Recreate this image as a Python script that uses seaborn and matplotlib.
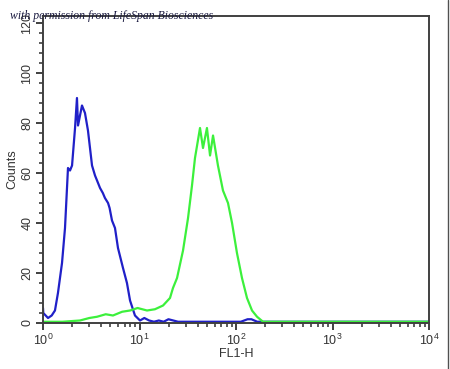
import numpy as np
import pandas as pd
import matplotlib
matplotlib.use("Agg")
import matplotlib.pyplot as plt
from matplotlib.ticker import LogLocator, LogFormatterMathtext, MultipleLocator, NullFormatter
from matplotlib.lines import Line2D
import seaborn as sns

# Blue histogram (control): log10(FL1-H) positions and counts
blue_log = [0.0, 0.003, 0.052, 0.09, 0.124, 0.155, 0.197, 0.228, 0.259, 0.28, 0.301, 0.332,
            0.352, 0.363, 0.404, 0.435, 0.466, 0.508, 0.539, 0.56, 0.591, 0.62, 0.642, 0.674,
            0.69, 0.715, 0.746, 0.777, 0.829, 0.870, 0.902, 0.953, 1.005, 1.05, 1.1, 1.15,
            1.2, 1.25, 1.3, 1.4, 1.5, 1.7, 1.9, 2.05, 2.12, 2.16, 2.22, 2.3, 2.6, 3.0, 3.5, 4.0]
blue_cnt = [6, 4, 2, 3, 5, 12, 24, 38, 62, 61, 63, 78,
            90, 79, 87, 84, 77, 63, 59, 57, 54, 52, 50, 48,
            46, 41, 38, 30, 22, 16, 9, 3, 1, 2, 1, 0.5,
            1, 0.5, 1.5, 0.5, 0.5, 0.5, 0.5, 0.5, 1.5, 1.5, 0.5, 0.5, 0.5, 0.5, 0.5, 0.5]

# Green histogram (antibody): log10(FL1-H) positions and counts
green_log = [0.0, 0.2, 0.383, 0.48, 0.56, 0.65, 0.725, 0.82, 0.902, 0.98, 1.078, 1.16,
             1.244, 1.316, 1.347, 1.389, 1.451, 1.503, 1.544, 1.575, 1.627, 1.658, 1.699,
             1.731, 1.762, 1.813, 1.865, 1.917, 1.959, 2.010, 2.062, 2.114, 2.166, 2.218,
             2.28, 2.4, 2.6, 3.0, 3.5, 4.0]
green_cnt = [0.5, 0.5, 1, 2, 2.5, 3.5, 3, 4.5, 5, 6, 5, 5.5,
             7, 10, 14, 18, 29, 42, 55, 66, 78, 70, 78,
             67, 75, 63, 53, 48, 40, 28, 18, 10, 5, 2.5,
             0.5, 0.5, 0.5, 0.5, 0.5, 0.5]

df_blue = pd.DataFrame({"FL1-H": np.power(10.0, blue_log), "Counts": blue_cnt})
df_green = pd.DataFrame({"FL1-H": np.power(10.0, green_log), "Counts": green_cnt})

sns.set_style("ticks")
plt.rcParams["font.family"] = ["Liberation Sans", "DejaVu Sans"]
plt.rcParams["mathtext.fontset"] = "custom"
plt.rcParams["mathtext.rm"] = "Liberation Sans"
plt.rcParams["mathtext.it"] = "Liberation Sans:italic"

fig = plt.figure(figsize=(4.5, 3.69), dpi=100)
ax = fig.add_axes([43/450, 1 - 323/369, (429 - 43)/450, (323 - 16)/369])

sns.lineplot(data=df_blue, x="FL1-H", y="Counts", ax=ax, color="#2020c8", lw=1.6,
             estimator=None, sort=False)
sns.lineplot(data=df_green, x="FL1-H", y="Counts", ax=ax, color="#3cf03c", lw=1.6,
             estimator=None, sort=False)

ax.set_xscale("log")
ax.set_xlim(1, 1e4)
ax.set_ylim(0, 122.8)

ax.yaxis.set_major_locator(MultipleLocator(20))
ax.yaxis.set_minor_locator(MultipleLocator(4))
ax.xaxis.set_major_locator(LogLocator(base=10, numticks=10))
ax.xaxis.set_minor_locator(LogLocator(base=10, subs=np.arange(2, 10), numticks=20))
ax.xaxis.set_major_formatter(LogFormatterMathtext())
ax.xaxis.set_minor_formatter(NullFormatter())

for s in ax.spines.values():
    s.set_visible(True)
    s.set_color("#404040")
    s.set_linewidth(1.4)

ax.tick_params(axis="both", which="major", direction="out", length=5, width=1.4,
               color="#404040", labelsize=9, pad=2, labelcolor="#333333")
ax.tick_params(axis="both", which="minor", direction="out", length=3, width=1.2,
               color="#404040")
ax.tick_params(axis="x", which="both", top=False)
ax.tick_params(axis="y", which="both", right=False)
for lab in ax.get_yticklabels():
    lab.set_rotation(90)
    lab.set_va("center")

ax.set_xlabel("FL1-H", fontsize=9, labelpad=0, color="#333333")
ax.set_ylabel("Counts", fontsize=9, labelpad=2, color="#333333")

fig.text(10/450, 1 - 16/369, "with permission from LifeSpan Biosciences",
         fontsize=8.5, style="italic", family=["Liberation Serif", "DejaVu Serif"],
         color="#1a1a40", va="center", ha="left")

fig.add_artist(Line2D([448/450, 448/450], [0, 1], transform=fig.transFigure,
                      color="#505050", lw=1.0))

fig.savefig("out.png", dpi=100)
